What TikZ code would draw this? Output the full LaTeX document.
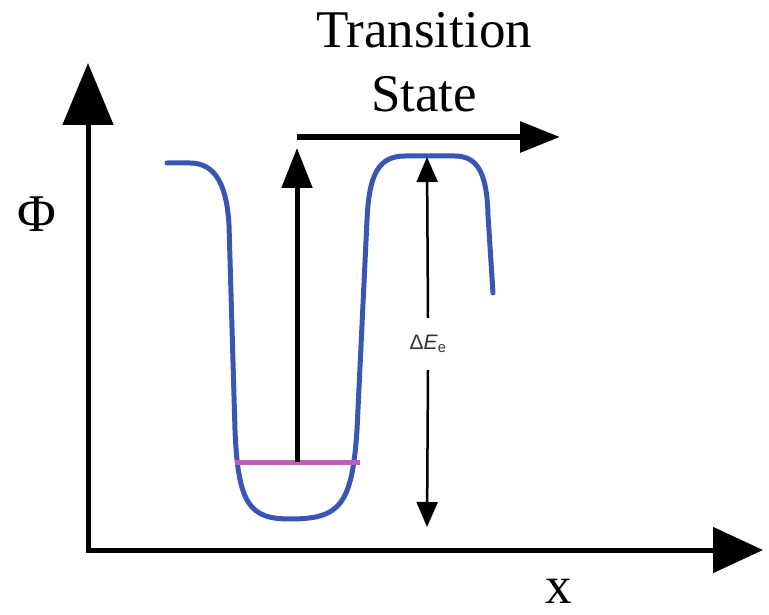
\documentclass[tikz,border=0pt]{standalone}
\usepackage{fontspec}
\setmainfont{Liberation Serif}
\newfontfamily\timesfont{Liberation Serif}
\newfontfamily\arialfont{Liberation Sans}
\usetikzlibrary{arrows.meta}
\definecolor{wellblue}{HTML}{3A56B4}
\definecolor{levelpink}{HTML}{C060B4}
\definecolor{labelgrey}{HTML}{333333}

\begin{document}
\begin{tikzpicture}[x=1pt,y=-1pt,
  axis/.style={line width=5pt,{Triangle[length=62pt,width=50pt]}-{Triangle[length=50pt,width=45pt]}},
  bigarrow/.style={line width=5pt,-{Triangle[length=40pt,width=30pt]}},
  gaparrow/.style={line width=2.5pt,-{Triangle[length=25pt,width=21pt]}},
  bigtext/.style={font=\timesfont\fontsize{53}{60}\selectfont,inner sep=0pt,anchor=base}]
\useasboundingbox (0,0) rectangle (769,615);
% axes
\coordinate (o) at (88,550);
\coordinate (ytip) at (88,63);
\coordinate (xtip) at (763,550);
\draw[axis,line join=miter] (ytip) -- (o) -- (xtip);
\node[bigtext] (phi) at (37,232) {Φ};
\node[bigtext] (xlab) at (559,603) {x};
% well
\draw[wellblue,line width=5pt,line cap=round,line join=round]
  (167,163) -- (190,163) .. controls (218,163) and (227,190) .. (229,225)
  -- (235,430) .. controls (238,505) and (250,519) .. (290,519)
  .. controls (340,519) and (352,505) .. (357,430)
  -- (367,220) .. controls (369,175) and (378,156) .. (405,156)
  -- (455,156) .. controls (480,156) and (487,178) .. (488,215)
  -- (493,293);
\coordinate (lvl-l) at (235,462);
\coordinate (lvl-r) at (360,462);
\draw[levelpink,line width=5pt] (lvl-l) -- (lvl-r);
% excitation
\coordinate (lvl-m) at (297,462);
\coordinate (up) at (297,148);
\draw[bigarrow] (lvl-m) -- (up);
\coordinate (ts-l) at (297,137);
\coordinate (ts-r) at (560,137);
\draw[bigarrow,line width=6pt] (ts-l) -- (ts-r);
\node[bigtext] (trans) at (424,48) {Transition};
\node[bigtext] (state) at (424,112) {State};
% barrier height
\node[font=\arialfont\fontsize{21}{24}\selectfont,text=labelgrey,minimum height=52pt,inner sep=0pt] (dE) at (428,344) {Δ\textit{E}\textsubscript{e}};
\coordinate (etop) at (427,157);
\coordinate (ebot) at (427,527);
\draw[gaparrow] (dE.north) -- (etop);
\draw[gaparrow] (dE.south) -- (ebot);
\end{tikzpicture}
\end{document}
